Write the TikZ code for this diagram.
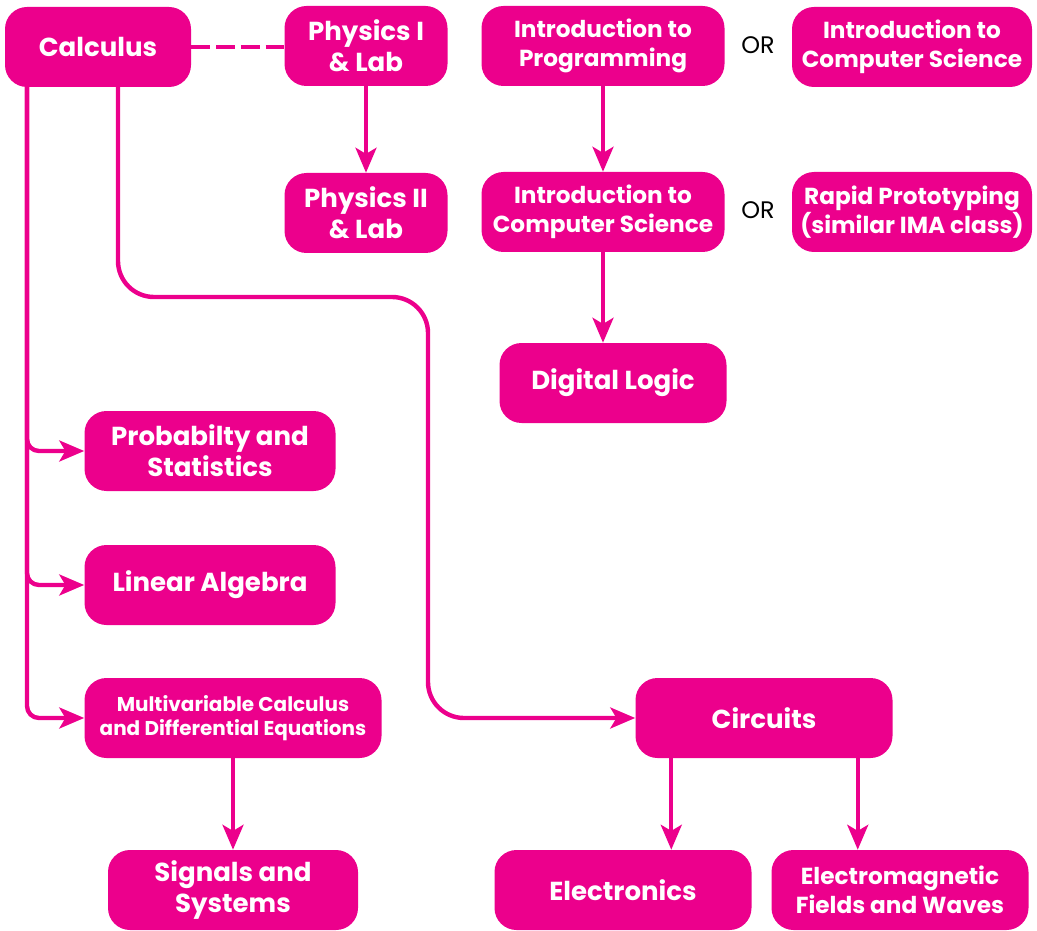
\documentclass[tikz,border=0pt]{standalone}
\usepackage{fontspec}
\setmainfont{Poppins}
\usetikzlibrary{arrows.meta, calc}
\definecolor{ima}{HTML}{EC008C}
\newcommand{\pxu}{0.025cm}
\tikzset{
  course/.style={fill=ima, text=white, rounded corners=0.55cm, align=center,
    inner sep=0pt, minimum height=80*\pxu, font=\bfseries\fontsize{18.5}{22}\selectfont},
  midtext/.style={font=\bfseries\fontsize{16.5}{20.5}\selectfont},
  smalltext/.style={font=\bfseries\fontsize{14.2}{17}\selectfont},
  link/.style={ima, line width=0.11cm, -{Stealth[length=0.62cm, width=0.52cm, inset=0.15cm]}},
}

\begin{document}
\begin{tikzpicture}[x=0.025cm, y=-0.025cm]
    \useasboundingbox (0,0) rectangle (1037,931);

    % Math and physics
    \node[course, minimum width=186*\pxu] (calc) at (98,47) {Calculus};
    \node[course, minimum width=163*\pxu] (phys1) at (366,46) {Physics I\\\& Lab};
    \node[course, minimum width=163*\pxu] (phys2) at (366,213) {Physics II\\\& Lab};
    \node[course, minimum width=251*\pxu] (prob) at (210,451) {Probabilty and\\Statistics};
    \node[course, minimum width=251*\pxu] (linalg) at (210,585) {Linear Algebra};
    \node[course, smalltext, minimum width=297*\pxu] (multi) at (233,718) {Multivariable Calculus\\and Differential Equations};
    \node[course, minimum width=250*\pxu] (signals) at (233,890) {Signals and\\Systems};

    % Programming track
    \node[course, midtext, minimum width=243*\pxu] (prog) at (603,46) {Introduction to\\Programming};
    \node[course, midtext, minimum width=240*\pxu] (csalt) at (912,47) {Introduction to\\Computer Science};
    \node[course, midtext, minimum width=243*\pxu] (cs) at (603,212) {Introduction to\\Computer Science};
    \node[course, midtext, minimum width=240*\pxu] (rapid) at (912,212) {Rapid Prototyping\\(similar IMA class)};
    \node[course, minimum width=227*\pxu] (logic) at (613,383) {Digital Logic};
    \node[font=\fontsize{17}{20}\selectfont] (or1) at (758,45) {OR};
    \node[font=\fontsize{17}{20}\selectfont] (or2) at (758,210) {OR};

    % Circuits
    \node[course, minimum width=257*\pxu] (circ) at (764,718) {Circuits};
    \node[course, minimum width=257*\pxu] (elec) at (623,890) {Electronics};
    \node[course, midtext, minimum width=257*\pxu] (em) at (900,890) {Electromagnetic\\Fields and Waves};

    % Connectors
    \draw[ima, line width=0.11cm, dash pattern=on 0.47cm off 0.15cm] (calc.east) -- (calc.east -| phys1.west);
    \draw[link] (phys1) -- (phys2);
    \draw[link] (prog) -- (cs);
    \draw[link] (cs.south) -- (cs.south |- logic.north);

    \coordinate (trunk) at (27,87);
    \draw[link, rounded corners=0.3cm] (trunk) |- (prob.west);
    \draw[link, rounded corners=0.3cm] (trunk) |- (linalg.west);
    \draw[link, rounded corners=0.3cm] (trunk) |- (multi.west);

    \coordinate (trunk2) at (118,87);
    \coordinate (jog) at (428,297);
    \draw[link, rounded corners=0.9cm] (trunk2) |- (jog) |- (circ.west);

    \draw[link] (multi) -- (signals);
    \draw[link] ($(circ.south west)!0.14!(circ.south east)$) coordinate (c1) -- (c1 |- elec.north);
    \draw[link] ($(circ.south west)!0.864!(circ.south east)$) coordinate (c2) -- (c2 |- em.north);
\end{tikzpicture}
\end{document}
